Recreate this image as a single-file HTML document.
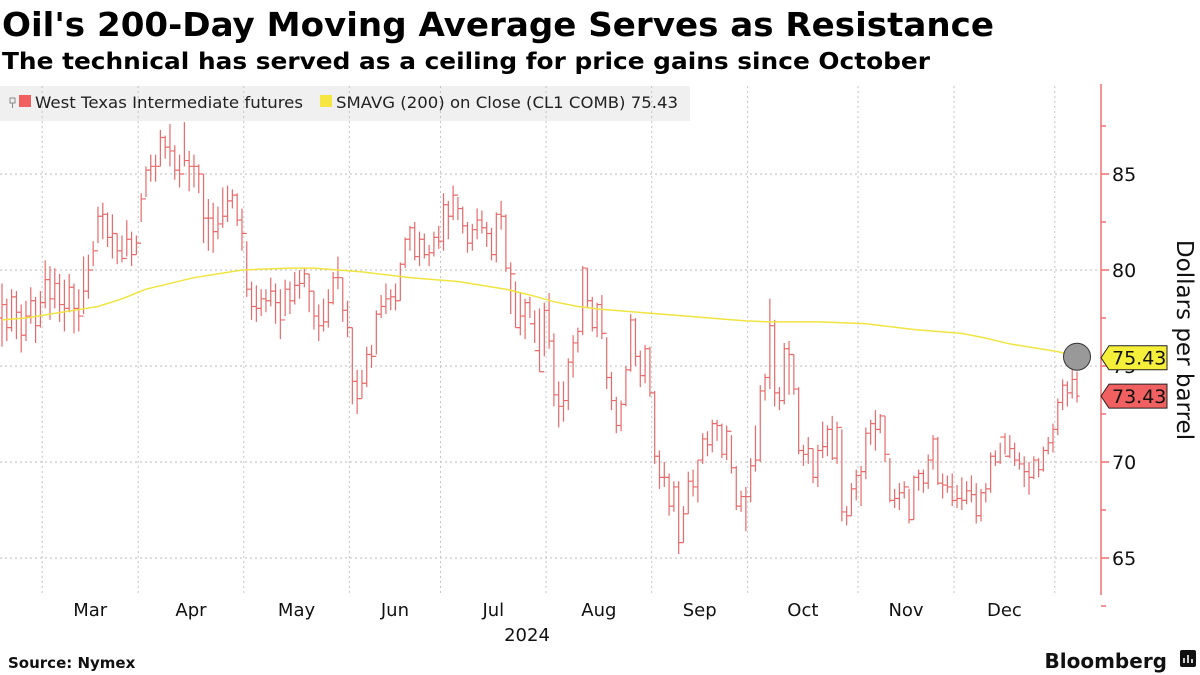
<!DOCTYPE html>
<html><head><meta charset="utf-8"><style>
html,body{margin:0;padding:0;background:#fff;width:1200px;height:675px;overflow:hidden}
svg{display:block;font-family:"DejaVu Sans","Liberation Sans",sans-serif}
</style></head><body>
<svg id="chart" width="1200" height="675" viewBox="0 0 1200 675">
<text x="2" y="36" font-size="33" font-weight="bold" textLength="992" lengthAdjust="spacingAndGlyphs">Oil's 200-Day Moving Average Serves as Resistance</text>
<text x="2" y="69" font-size="23" font-weight="bold" textLength="928" lengthAdjust="spacingAndGlyphs">The technical has served as a ceiling for price gains since October</text>
<rect x="0" y="86" width="690" height="35" fill="#f0f0f0"/>
<g id="grid"></g>
<g id="bars"></g>
<g id="sma"></g>
<g>
<path d="M10 98h5v5h-5zM12.5 103v5" stroke="#888" fill="none" stroke-width="1"/>
<rect x="19" y="95" width="12" height="12" fill="#f06060"/>
<text x="35" y="108" font-size="16" fill="#222" textLength="268" lengthAdjust="spacingAndGlyphs">West Texas Intermediate futures</text>
</g>
<g>
<rect x="320" y="95" width="12" height="12" fill="#f5e642"/>
<text x="336" y="108" font-size="16" fill="#222" textLength="342" lengthAdjust="spacingAndGlyphs">SMAVG (200)  on Close (CL1 COMB) 75.43</text>
</g>
<g id="axis"></g>
<g id="xaxis"></g>
<text transform="translate(1177,340) rotate(90)" font-size="23" text-anchor="middle" fill="#111">Dollars per barrel</text>
<text x="8" y="668" font-size="15" font-weight="bold" fill="#111">Source: Nymex</text>
<text x="1167" y="668" font-size="20" font-weight="bold" text-anchor="end" fill="#111">Bloomberg</text>
<g><rect x="1180" y="650" width="16" height="17" rx="2" fill="#111"/><path d="M1184 663v-5M1188 663v-8M1192 663v-4" stroke="#fff" stroke-width="1.6"/></g>
</svg>
<script>
const highs=[79.3,78.5,79.0,78.9,78.2,78.4,79.1,78.6,78.9,
80.5,80.2,80.1,79.8,79.5,79.8,79.3,79.0,80.7,80.8,81.5,83.3,83.5,83.0,82.9,81.9,81.8,82.6,82.0,81.8,
84.0,85.4,86.0,86.0,87.3,87.0,87.6,86.5,86.0,87.7,86.2,86.0,85.5,85.0,83.7,83.5,83.3,84.3,84.4,84.2,84.0,83.2,
81.5,79.4,79.2,79.0,79.0,79.6,79.3,79.0,79.5,79.4,79.9,80.0,80.1,79.8,78.9,78.2,78.5,79.0,79.9,80.7,79.6,78.4,
77.0,74.8,74.8,76.0,76.1,77.9,78.7,79.3,79.0,79.3,80.4,81.7,82.3,82.5,82.0,81.9,81.3,82.0,82.3,
84.0,83.6,84.4,83.8,83.3,82.5,82.4,83.2,83.1,82.5,82.2,83.0,83.6,82.9,80.4,79.4,78.8,78.5,78.6,77.9,78.0,78.3,
78.8,76.7,74.2,74.2,75.4,76.6,77.0,80.2,80.1,78.6,78.3,78.7,76.5,74.7,73.4,73.2,75.0,77.7,77.5,75.8,76.1,76.0,
73.7,70.6,70.0,69.4,69.0,69.0,67.7,69.5,69.6,70.1,71.5,71.6,72.2,72.2,72.0,71.9,71.4,69.8,68.5,68.7,
70.2,71.9,74.0,74.6,78.5,77.4,73.9,76.2,76.3,75.6,73.9,70.9,71.3,70.7,70.9,72.1,71.9,72.4,72.1,71.7,67.7,68.9,69.6,
69.8,71.8,72.2,72.7,72.5,72.4,70.2,68.6,68.9,69.0,68.6,69.3,69.6,69.6,70.4,71.4,71.3,69.4,69.3,69.4,
68.8,69.2,69.0,69.3,68.9,68.6,68.9,70.5,70.6,71.0,71.5,71.4,71.0,70.5,70.3,70.0,70.3,70.2,70.8,71.3,72.0,
73.3,74.3,74.2,75.3,74.7];
const lows=[76.0,76.3,76.8,76.4,75.7,76.3,77.2,76.2,77.0,
78.0,77.4,78.0,77.3,76.8,77.8,76.7,76.8,77.7,78.5,80.2,81.4,81.6,81.2,80.6,80.3,80.4,80.7,80.2,80.8,
82.5,83.8,84.6,84.6,85.4,85.8,85.4,84.7,84.3,85.4,84.1,84.3,84.0,81.4,81.0,80.9,81.6,82.2,82.5,83.2,82.3,81.0,
78.6,77.4,77.3,77.6,77.8,78.1,77.2,76.4,77.6,77.7,78.2,78.5,79.1,77.8,76.9,76.3,76.8,77.0,78.2,79.0,77.3,76.5,
73.0,72.5,73.3,73.9,74.9,75.6,77.5,77.7,77.9,77.9,78.4,80.1,81.0,80.5,80.2,80.6,80.2,80.7,81.1,
81.0,81.6,82.6,82.6,81.9,80.9,81.0,81.6,81.9,81.2,80.5,80.4,82.1,79.9,77.7,77.0,76.6,76.4,77.5,76.2,74.7,75.5,
75.9,72.9,71.8,72.1,72.7,74.4,75.7,76.6,78.0,76.8,76.5,76.4,73.8,72.7,71.5,71.6,72.9,74.7,75.0,73.9,74.1,73.4,
69.9,68.6,68.7,67.2,67.4,65.2,65.8,67.3,68.2,67.9,69.9,70.3,70.5,71.1,70.2,70.1,69.4,67.5,67.4,66.4,
67.9,69.5,70.0,73.2,73.8,72.9,72.7,73.0,73.5,73.5,70.4,69.8,69.9,68.9,68.7,70.2,70.3,70.1,69.9,66.9,66.7,67.2,68.0,
67.7,69.1,70.9,70.6,71.5,70.0,67.9,67.6,67.5,68.1,66.8,67.0,68.5,68.4,68.6,69.6,68.8,68.1,68.4,67.7,
67.6,67.5,67.8,67.9,66.8,66.9,67.9,68.4,69.8,69.9,70.4,70.2,69.8,69.6,68.7,68.3,69.1,69.2,69.5,70.4,70.5,
71.4,72.7,72.9,73.3,73.1];
const closes=[78.2,77.0,78.6,77.8,76.6,77.6,78.4,77.1,78.3,
79.5,78.5,79.3,78.2,78.0,79.1,78.0,77.6,78.9,80.0,81.0,82.8,82.9,81.7,81.9,81.0,80.6,81.6,80.8,81.4,
83.7,85.2,85.4,85.4,86.9,86.4,86.2,85.2,85.0,85.7,85.4,85.4,85.0,82.7,82.7,82.0,82.4,82.8,83.6,83.9,82.6,81.9,
79.0,78.1,78.0,78.5,78.4,78.9,78.3,77.4,79.0,78.4,79.2,79.3,79.8,78.9,77.6,77.1,77.3,78.3,79.6,79.6,77.9,77.0,
74.2,73.3,74.1,75.6,75.5,77.7,78.1,78.5,78.6,78.4,80.3,81.6,82.2,80.7,81.6,80.8,80.9,81.7,81.5,
83.4,82.8,83.9,83.2,82.3,81.4,82.1,82.6,82.2,81.9,80.8,82.9,82.8,80.1,79.8,77.0,77.6,78.3,77.2,75.8,74.7,77.9,
76.3,73.5,72.9,73.2,75.2,76.2,76.8,80.1,78.4,77.0,78.2,76.7,74.4,73.2,71.9,73.0,74.8,77.4,75.5,74.5,75.9,73.6,
70.3,69.2,69.2,67.7,68.7,65.8,67.3,69.0,68.7,70.1,71.2,70.9,72.0,71.9,70.4,71.6,69.7,67.7,68.2,68.2,
69.8,70.1,73.7,74.4,77.1,73.6,73.2,75.9,75.6,73.8,70.6,70.4,70.7,69.2,70.6,70.8,71.7,70.2,71.8,67.4,67.2,68.6,69.3,
69.5,71.5,72.0,71.7,72.4,70.4,68.0,68.1,68.4,68.7,67.0,69.2,69.4,68.9,70.1,71.2,68.9,68.8,68.7,68.0,
68.1,68.0,68.5,68.3,67.2,68.4,68.6,70.3,70.0,71.3,70.3,70.7,70.1,69.9,69.5,69.2,70.1,69.6,70.6,71.0,71.7,
73.1,74.0,73.6,74.3,73.43];
const smaVals=[77.4,77.5,77.7,77.9,78.1,78.5,79.0,79.3,79.6,79.8,80.0,80.05,80.1,80.1,80.0,79.9,79.75,79.6,79.5,79.4,79.2,79.0,78.7,78.35,78.1,77.95,77.85,77.75,77.65,77.55,77.45,77.35,77.3,77.3,77.3,77.25,77.2,77.05,76.9,76.8,76.7,76.45,76.15,75.95,75.75,75.5,75.43];
const smaStep=5;
const monthLabels=["Mar","Apr","May","Jun","Jul","Aug","Sep","Oct","Nov","Dec"];
const monthStartIdx=[9,29,51,73,92,114,136,156,179,199,220];
const yTicks=[65,70,75,80,85];
const lastClose=73.43, lastSma=75.43;

const NS="http://www.w3.org/2000/svg";
const N=closes.length;
const X0=2, X1=1077;
const xs=i=>X0+i*(X1-X0)/(N-1);
const ys=v=>558-(v-65)*19.2;
function el(t,a,p){const e=document.createElementNS(NS,t);for(const k in a)e.setAttribute(k,a[k]);p.appendChild(e);return e;}
const grid=document.getElementById('grid'),bars=document.getElementById('bars'),sma=document.getElementById('sma'),axis=document.getElementById('axis'),xaxis=document.getElementById('xaxis');

yTicks.forEach(v=>{
  const l=el('line',{x1:0,x2:1100,y1:ys(v),y2:ys(v),stroke:'#bbb','stroke-dasharray':'2,3','stroke-width':1},grid);
  
  
});
monthStartIdx.forEach(i=>{
  const x=xs(i)-3;
  const l=el('line',{x1:x,x2:x,y1:86,y2:594,stroke:'#c4c4c4','stroke-dasharray':'2,3','stroke-width':1},grid);
  
  
});
monthLabels.forEach((m,k)=>{
  const x=(xs(monthStartIdx[k])+xs(monthStartIdx[k+1]))/2-3;
  const t=el('text',{x:x,y:616,'font-size':18,'text-anchor':'middle',fill:'#111'},xaxis);
  t.textContent=m;
  
  
});
const yr=el('text',{x:527,y:641,'font-size':18,'text-anchor':'middle',fill:'#111'},xaxis);
yr.textContent='2024';



for(let i=0;i<N;i++){
  const x=xs(i), o=i>0?closes[i-1]:77.5;
  const g=el('path',{d:`M${x} ${ys(highs[i])}V${ys(lows[i])}M${x-2.5} ${ys(o)}H${x}M${x} ${ys(closes[i])}H${x+2.5}`,stroke:'#e86a6a','stroke-width':1.2,fill:'none'},bars);
  
  
}
let pts=smaVals.map((v,k)=>`${xs(Math.min(k*smaStep,N-1))},${ys(v)}`).join(' ');
const pl=el('polyline',{points:pts,fill:'none',stroke:'#f0e440','stroke-width':1.5},sma);



const ax=el('line',{x1:1101,x2:1101,y1:84,y2:595,stroke:'#f07070','stroke-width':1.5},axis);


for(let v=62.5;v<=87.5;v+=2.5){
  const t=el('path',{d:`M1101 ${ys(v)}h${v%5===0?8:5}`,stroke:'#f07070','stroke-width':1.5},axis);
  
  
}
yTicks.forEach(v=>{
  const t=el('text',{x:1112,y:ys(v)+7,'font-size':19,fill:'#111'},axis);
  t.textContent=v;
  
  
});
const c=el('circle',{cx:xs(N-1),cy:ys(lastSma)-1,r:13.5,fill:'#999',stroke:'#333','stroke-width':1},axis);


function tag(v,col,name){
  const y=ys(v);
  const p=el('path',{d:`M1101 ${y}l8 -12h58v24h-58z`,fill:col,stroke:'#222','stroke-width':1},axis);
  
  
  const t=el('text',{x:1112,y:y+7,'font-size':19,fill:'#111'},axis);
  t.textContent=v.toFixed(2);
  
  
}
tag(lastSma,'#f5ef3a','sma-value-tag');
tag(lastClose,'#f06060','price-value-tag');
</script>
</body></html>
